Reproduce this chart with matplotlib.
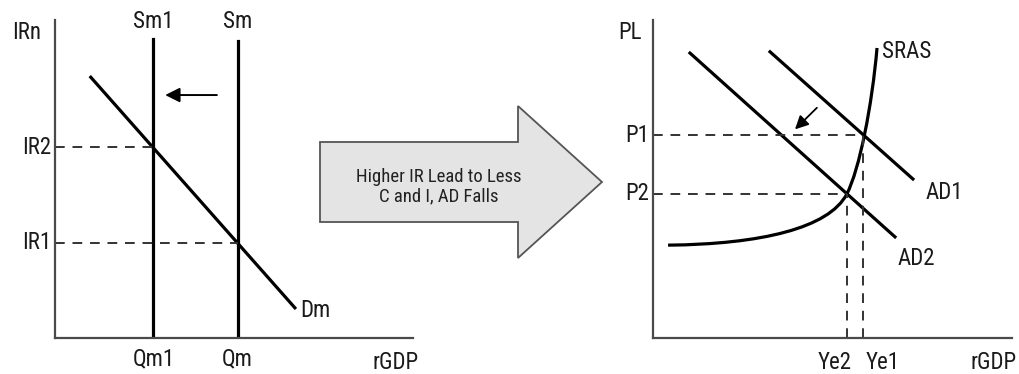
import matplotlib.pyplot as plt
from matplotlib.path import Path
from matplotlib.patches import PathPatch, FancyArrow
from matplotlib import font_manager

# --- left panel: money market ---
sm1_x, sm_x = 2.75, 5.1
sm1_top, sm_top = 9.4, 9.35
ir2, ir1 = 6.0, 3.0
dm_x = [1.0, 6.7]
dm_y = [8.2, 0.95]
shift_left = [(4.6, 7.64), (3.0, 7.64)]

# --- right panel: AD / SRAS ---
p1, p2 = 6.38, 4.53
ye2, ye1 = 5.4, 5.85
ad1_x, ad1_y = [3.26, 7.24], [9.0, 5.0]
ad2_x, ad2_y = [1.03, 6.74], [8.96, 3.18]
# SRAS as two cubic bezier pieces (anchor / control points)
sras_pts = [(0.42, 2.92), (3.0, 2.95), (4.9, 3.45), (5.4, 4.53),
            (5.75, 5.3), (6.1, 7.3), (6.24, 9.12)]
shift_ad = [(4.62, 7.3), (3.9, 6.5)]

mid_text = "Higher IR Lead to Less\nC and I, AD Falls"

# pick a narrow font if one is around
fl = font_manager.fontManager.ttflist
names = {f.name for f in fl}
stretch = 'normal'
fam = ['DejaVu Sans']
for cand in ['Roboto Condensed', 'Liberation Sans Narrow', 'Open Sans Condensed',
             'Noto Sans Condensed', 'DejaVu Sans Condensed']:
    if cand in names:
        fam = [cand, 'DejaVu Sans']
        break
else:
    if any(f.name == 'DejaVu Sans' and f.stretch == 'condensed' for f in fl):
        stretch = 'condensed'
plt.rcParams['font.family'] = fam
plt.rcParams['font.stretch'] = stretch

W, H = 1019, 374
fig = plt.figure(figsize=(W / 100, H / 100), dpi=100)
axc = '#4a4a4a'
lw_main = 2.3
dash = dict(color='#333333', lw=1.4, linestyle=(0, (5, 4)))
fs = 16.5
txt_c = '#1a1a1a'


def setup(ax):
    ax.set_xlim(0, 10)
    ax.set_ylim(0, 10)
    for s in ['top', 'right']:
        ax.spines[s].set_visible(False)
    for s in ['left', 'bottom']:
        ax.spines[s].set_color(axc)
        ax.spines[s].set_linewidth(1.6)
    ax.set_xticks([])
    ax.set_yticks([])
    ax.patch.set_alpha(0)


def lab(ax, x, y, s, ha='center'):
    ax.text(x, y, s, ha=ha, va='center', fontsize=fs, color=txt_c,
            fontstretch=stretch, clip_on=False)


axl = fig.add_axes([55 / W, 36 / H, 358 / W, 318 / H])
setup(axl)
axl.plot([sm1_x, sm1_x], [0, sm1_top], color='k', lw=lw_main)
axl.plot([sm_x, sm_x], [0, sm_top], color='k', lw=lw_main)
axl.plot(dm_x, dm_y, color='k', lw=lw_main)
axl.plot([0, sm1_x], [ir2, ir2], **dash)
axl.plot([0, sm_x], [ir1, ir1], **dash)
axl.annotate('', xy=shift_left[1], xytext=shift_left[0],
             arrowprops=dict(arrowstyle='-|>', color='k', lw=1.4, mutation_scale=22))
lab(axl, -0.78, 9.6, 'IRn')
lab(axl, -0.5, ir2, 'IR2')
lab(axl, -0.5, ir1, 'IR1')
lab(axl, sm1_x, 9.95, 'Sm1')
lab(axl, sm_x, 9.95, 'Sm')
lab(axl, 6.85, 0.85, 'Dm', ha='left')
lab(axl, sm1_x, -0.65, 'Qm1')
lab(axl, sm_x, -0.65, 'Qm')
lab(axl, 9.5, -0.78, 'rGDP')

# --- middle arrow ---
axm = fig.add_axes([300 / W, 104 / H, 320 / W, 180 / H])
axm.set_xlim(0, 320)
axm.set_ylim(180, 0)
axm.axis('off')
axm.add_patch(FancyArrow(20, 92, 282, 0, width=80, head_width=152, head_length=84,
                         length_includes_head=True, facecolor='#e4e4e4',
                         edgecolor='#555555', lw=1.3))
axm.text(139, 97, mid_text, ha='center', va='center', fontsize=13.5,
         color='#222222', linespacing=1.1, fontstretch=stretch)

# --- right panel ---
axr = fig.add_axes([653 / W, 36 / H, 359 / W, 318 / H])
setup(axr)
axr.plot(ad1_x, ad1_y, color='k', lw=lw_main)
axr.plot(ad2_x, ad2_y, color='k', lw=lw_main)
codes = [Path.MOVETO] + [Path.CURVE4] * 6
axr.add_patch(PathPatch(Path(sras_pts, codes), facecolor='none', edgecolor='k', lw=lw_main))
axr.plot([0, ye1], [p1, p1], **dash)
axr.plot([0, ye2], [p2, p2], **dash)
axr.plot([ye2, ye2], [0, p2], **dash)
axr.plot([ye1, ye1], [0, p1], **dash)
axr.annotate('', xy=shift_ad[1], xytext=shift_ad[0],
             arrowprops=dict(arrowstyle='-|>', color='k', lw=1.3, mutation_scale=20))
lab(axr, -0.64, 9.6, 'PL')
lab(axr, -0.45, p1, 'P1')
lab(axr, -0.45, p2, 'P2')
lab(axr, 6.38, 9.0, 'SRAS', ha='left')
lab(axr, 7.58, 4.56, 'AD1', ha='left')
lab(axr, 6.82, 2.5, 'AD2', ha='left')
lab(axr, 5.07, -0.78, 'Ye2')
lab(axr, 6.4, -0.78, 'Ye1')
lab(axr, 9.5, -0.78, 'rGDP')

fig.savefig('out.png', dpi=100)
